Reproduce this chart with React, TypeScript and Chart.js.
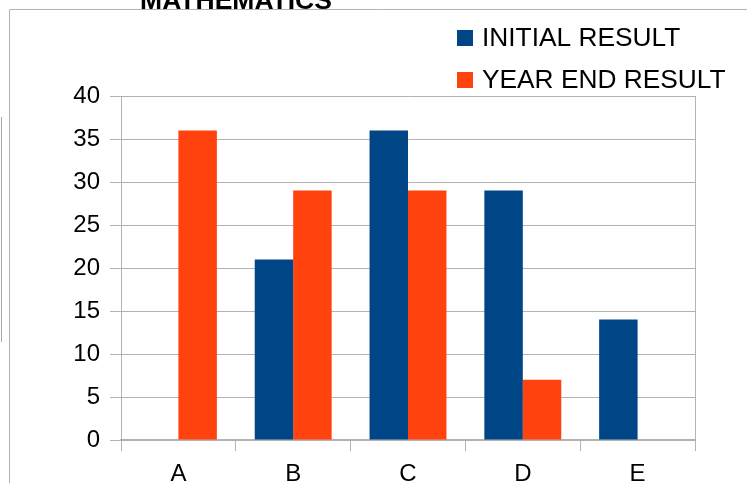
import { useEffect, useRef } from "react";
import { Chart, registerables } from "chart.js";

Chart.register(...registerables);

const chartTitle = "MATHEMATICS";
const categories = ["A", "B", "C", "D", "E"];
const seriesNames = ["INITIAL RESULT", "YEAR END RESULT"];
const initialResult = [0, 21, 36, 29, 14];
const yearEndResult = [36, 29, 29, 7, 0];
const seriesColors = ["#004586", "#ff420e"];
const yMin = 0;
const yMax = 40;
const yStep = 5;

const FONT = "'Liberation Sans', Arial, sans-serif";
const GRID = "#b3b3b3";

const decorPlugin = {
  id: "decor",
  afterDraw(chart: any) {
    const ctx = chart.ctx as CanvasRenderingContext2D;
    const a = chart.chartArea;
    ctx.save();
    // title (cut at the top)
    ctx.font = `bold 26.5px ${FONT}`;
    ctx.fillStyle = "#000";
    ctx.textAlign = "center";
    ctx.textBaseline = "alphabetic";
    ctx.fillText(chartTitle, 236, 9);
    // outer frame
    ctx.strokeStyle = GRID;
    ctx.lineWidth = 1;
    ctx.beginPath();
    ctx.moveTo(9.5, 483);
    ctx.lineTo(9.5, 9.5);
    ctx.lineTo(747, 9.5);
    ctx.stroke();
    // left fragment line
    ctx.strokeStyle = "#a8a8a8";
    ctx.beginPath();
    ctx.moveTo(1.5, 117);
    ctx.lineTo(1.5, 342);
    ctx.stroke();
    // right border of plot
    ctx.strokeStyle = GRID;
    ctx.beginPath();
    ctx.moveTo(Math.round(a.right) + 0.5, a.top);
    ctx.lineTo(Math.round(a.right) + 0.5, a.bottom);
    ctx.stroke();
    // legend
    ctx.font = `26.3px ${FONT}`;
    ctx.textAlign = "left";
    ctx.textBaseline = "middle";
    chart.data.datasets.forEach((ds: any, i: number) => {
      const cy = 38 + i * 42;
      ctx.fillStyle = ds.backgroundColor;
      ctx.fillRect(457, cy - 8, 16, 16);
      ctx.fillStyle = "#000";
      ctx.fillText(ds.label, 482, cy + 1);
    });
    ctx.restore();
  },
};

export default function App() {
  const ref = useRef<HTMLCanvasElement | null>(null);
  useEffect(() => {
    if (!ref.current) return;
    const chart = new Chart(ref.current, {
      type: "bar",
      data: {
        labels: categories,
        datasets: [
          {
            label: seriesNames[0],
            data: initialResult,
            backgroundColor: seriesColors[0],
            borderWidth: 0,
            categoryPercentage: 0.67,
            barPercentage: 1,
          },
          {
            label: seriesNames[1],
            data: yearEndResult,
            backgroundColor: seriesColors[1],
            borderWidth: 0,
            categoryPercentage: 0.67,
            barPercentage: 1,
          },
        ],
      },
      options: {
        responsive: false,
        animation: false,
        devicePixelRatio: 1,
        layout: { padding: { left: 0, top: 96, right: 52, bottom: 0 } },
        plugins: {
          legend: { display: false },
          title: { display: false },
          tooltip: { enabled: false },
        },
        scales: {
          x: {
            afterFit: (s: any) => {
              s.height = 43;
            },
            grid: {
              offset: true,
              drawOnChartArea: false,
              color: GRID,
              tickLength: 11,
            },
            border: { color: GRID, width: 2 },
            ticks: {
              color: "#000",
              font: { family: FONT, size: 24 },
              padding: 9,
            },
          },
          y: {
            min: yMin,
            max: yMax,
            afterFit: (s: any) => {
              s.width = 121;
            },
            grid: { color: GRID, tickLength: 11 },
            border: { color: GRID, width: 1 },
            ticks: {
              stepSize: yStep,
              color: "#000",
              font: { family: FONT, size: 24 },
              padding: 10,
            },
          },
        },
      },
      plugins: [decorPlugin],
    });
    return () => chart.destroy();
  }, []);
  return (
    <div style={{ position: "absolute", left: 0, top: 0, width: 747, height: 483, background: "#fff" }}>
      <canvas ref={ref} width={747} height={483} style={{ display: "block" }} />
    </div>
  );
}
